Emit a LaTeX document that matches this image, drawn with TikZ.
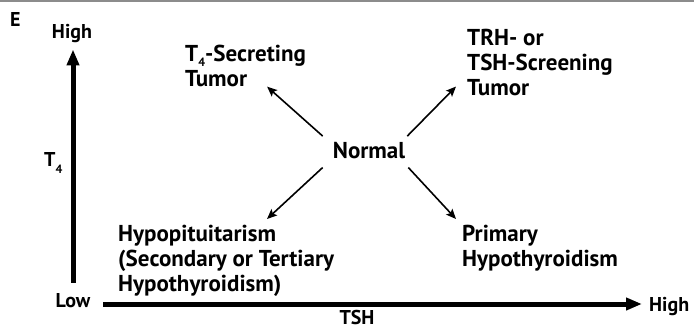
\documentclass[tikz,border=0pt]{standalone}
\usepackage{fontspec}
\setmainfont{PT Sans}
\usetikzlibrary{arrows.meta}
% small lowered index, as in T_4
\newcommand{\lowidx}[2][7pt]{\raisebox{-#1}{\fontsize{12}{12}\selectfont #2}}

\tikzset{
	lbl/.style={font=\fontsize{23}{25}\selectfont\bfseries, inner sep=0pt, align=left},
	axlbl/.style={font=\fontsize{20}{22}\selectfont\bfseries, inner sep=0pt},
	axis/.style={line width=5pt, -{Triangle[length=16pt,width=12pt]}},
	move/.style={line width=1.6pt, -{Stealth[length=10pt,width=8.5pt,inset=2pt]}},
}

\begin{document}
\begin{tikzpicture}[x=1pt,y=-1pt]
		%%%%% START %%%%%
		\useasboundingbox (0,0) rectangle (694,329);
		\fill[black!45] (0,0) rectangle (694,2);
		
		\node[axlbl, anchor=base west] (tag) at (10,27) {E};
		
		% axis labels
		\node[axlbl, anchor=base] (hiT) at (72,39) {High};
		\node[axlbl, anchor=base] (lo) at (73,307) {Low};
		\node[axlbl, anchor=base west] (hiS) at (649,311) {High};
		\node[axlbl, anchor=base] (tsh) at (357,324) {TSH};
		\node[axlbl, anchor=base west] (tfour) at (44,166) {T\lowidx{4}};
		
		% states
		\node[lbl, anchor=base] (norm) at (369,158) {Normal};
		\node[lbl, anchor=north west] (sec) at (185,44.5) {T\lowidx[5pt]{4}-Secreting\\Tumor};
		\node[lbl, anchor=north west] (scr) at (467,28.5) {TRH- or\\TSH-Screening\\Tumor};
		\node[lbl, anchor=north west] (hypo) at (118,225) {Hypopituitarism\\(Secondary or Tertiary\\Hypothyroidism)};
		\node[lbl, anchor=north west] (prim) at (462,225) {Primary\\Hypothyroidism};
		
		% axes
		\draw[axis, shorten >=6pt] ([yshift=10pt]lo.north) -- (lo.north |- hiT.south);
		\draw[axis, shorten >=7pt] ([xshift=13pt,yshift=3pt]lo.base east) -- ([yshift=3pt]lo.base -| hiS.west);
		
		% moves away from normal
		\draw[move] ([xshift=-10pt,yshift=5.5pt]norm.north west) -- ([xshift=-39pt]sec.south east);
		\draw[move] ([xshift=2pt,yshift=5.5pt]norm.north east) -- ([xshift=-11pt,yshift=9pt]scr.south west);
		\draw[move] ([xshift=-10pt,yshift=-9pt]norm.south west) -- ([xshift=149pt,yshift=6pt]hypo.north west);
		\draw[move] ([xshift=3pt,yshift=-9pt]norm.south east) -- ([xshift=-6pt,yshift=6pt]prim.north west);
		
		%%%%% END %%%%%
\end{tikzpicture}
\end{document}
